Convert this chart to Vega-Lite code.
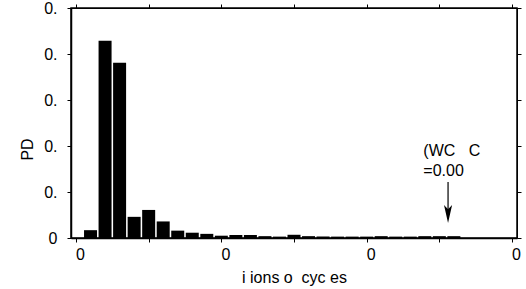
{
  "$schema": "https://vega.github.io/schema/vega-lite/v6.json",
  "width": 446,
  "height": 230,
  "autosize": {"type": "none"},
  "padding": {"left": 71, "top": 8, "right": 9, "bottom": 51},
  "background": "white",
  "config": {
    "view": {"stroke": "black", "strokeWidth": 1.5},
    "font": "Liberation Sans",
    "axis": {"grid": false, "labelFont": "Liberation Sans", "labelFontSize": 16, "labelColor": "black", "titleFont": "Liberation Sans", "titleFontSize": 16, "titleFontWeight": "normal", "titleColor": "black"}
  },
  "datasets": {
    "bars": [
      {"cycles": 1, "pdf": 0.017},
      {"cycles": 2, "pdf": 0.429},
      {"cycles": 3, "pdf": 0.381},
      {"cycles": 4, "pdf": 0.046},
      {"cycles": 5, "pdf": 0.061},
      {"cycles": 6, "pdf": 0.036},
      {"cycles": 7, "pdf": 0.016},
      {"cycles": 8, "pdf": 0.0115},
      {"cycles": 9, "pdf": 0.009},
      {"cycles": 10, "pdf": 0.005},
      {"cycles": 11, "pdf": 0.0065},
      {"cycles": 12, "pdf": 0.0065},
      {"cycles": 13, "pdf": 0.004},
      {"cycles": 14, "pdf": 0.003},
      {"cycles": 15, "pdf": 0.007},
      {"cycles": 16, "pdf": 0.004},
      {"cycles": 17, "pdf": 0.003},
      {"cycles": 18, "pdf": 0.003},
      {"cycles": 19, "pdf": 0.003},
      {"cycles": 20, "pdf": 0.003},
      {"cycles": 21, "pdf": 0.004},
      {"cycles": 22, "pdf": 0.003},
      {"cycles": 23, "pdf": 0.003},
      {"cycles": 24, "pdf": 0.004},
      {"cycles": 25, "pdf": 0.004},
      {"cycles": 26, "pdf": 0.004}
    ],
    "arrow": [
      {"x": 25.6, "y": 0.122},
      {"x": 25.6, "y": 0.062}
    ],
    "head": [
      {"x": 25.6, "y": 0.052}
    ],
    "label": [
      {"x": 23.9, "y": 0.178, "text": "(WC\u00a0\u00a0\u00a0C"},
      {"x": 23.9, "y": 0.135, "text": "=0.00"}
    ]
  },
  "resolve": {"axis": {"x": "independent", "y": "independent"}},
  "layer": [
    {
      "data": {"name": "bars"},
      "mark": {"type": "bar", "color": "black", "size": 13},
      "encoding": {
        "x": {"field": "cycles", "type": "quantitative", "scale": {"domain": [0, 30], "nice": false, "zero": false},
          "axis": {"orient": "bottom", "values": [0, 5, 10, 15, 20, 25, 30], "domain": true, "domainColor": "black", "domainWidth": 1.5, "ticks": true, "tickColor": "black", "tickWidth": 1, "tickSize": 4, "tickOffset": 0, "labelExpr": "datum.value % 10 === 0 ? '0' : ''", "labelOffset": 4, "labelPadding": 4, "labelFlush": false, "title": "i\u00a0ions o\u00a0\u00a0cyc\u00a0es", "titlePadding": 7}},
        "y": {"field": "pdf", "type": "quantitative", "scale": {"domain": [0, 0.5], "nice": false},
          "axis": {"orient": "left", "values": [0, 0.1, 0.2, 0.3, 0.4, 0.5], "domain": true, "domainColor": "black", "domainWidth": 1.5, "ticks": true, "tickColor": "black", "tickWidth": 1, "tickSize": 4, "labelExpr": "datum.value === 0 ? '0' : '0.'", "labelPadding": 10, "labelFlush": false, "title": "PD", "titlePadding": 8, "titleY": 141, "titleAnchor": null}}
      }
    },
    {
      "data": {"name": "arrow"},
      "mark": {"type": "line", "color": "black", "strokeWidth": 1.2},
      "encoding": {
        "x": {"field": "x", "type": "quantitative", "axis": {"orient": "top", "values": [0, 5, 10, 15, 20, 25, 30], "domain": true, "domainColor": "black", "ticks": true, "tickColor": "black", "tickSize": 4, "labels": false, "title": null}},
        "y": {"field": "y", "type": "quantitative", "axis": {"orient": "right", "values": [0, 0.1, 0.2, 0.3, 0.4, 0.5], "domain": true, "domainColor": "black", "ticks": true, "tickColor": "black", "tickSize": 4, "labels": false, "title": null}}
      }
    },
    {
      "data": {"name": "head"},
      "mark": {"type": "point", "filled": true, "color": "black", "opacity": 1, "size": 324, "shape": "M -0.45 -1 L 0 1 L 0.45 -1 L 0 -0.55 Z"},
      "encoding": {
        "x": {"field": "x", "type": "quantitative", "axis": null},
        "y": {"field": "y", "type": "quantitative", "axis": null}
      }
    },
    {
      "data": {"name": "label"},
      "mark": {"type": "text", "align": "left", "baseline": "alphabetic", "fontSize": 16, "font": "Liberation Sans", "color": "black"},
      "encoding": {
        "x": {"field": "x", "type": "quantitative", "axis": null},
        "y": {"field": "y", "type": "quantitative", "axis": null},
        "text": {"field": "text"}
      }
    }
  ]
}
